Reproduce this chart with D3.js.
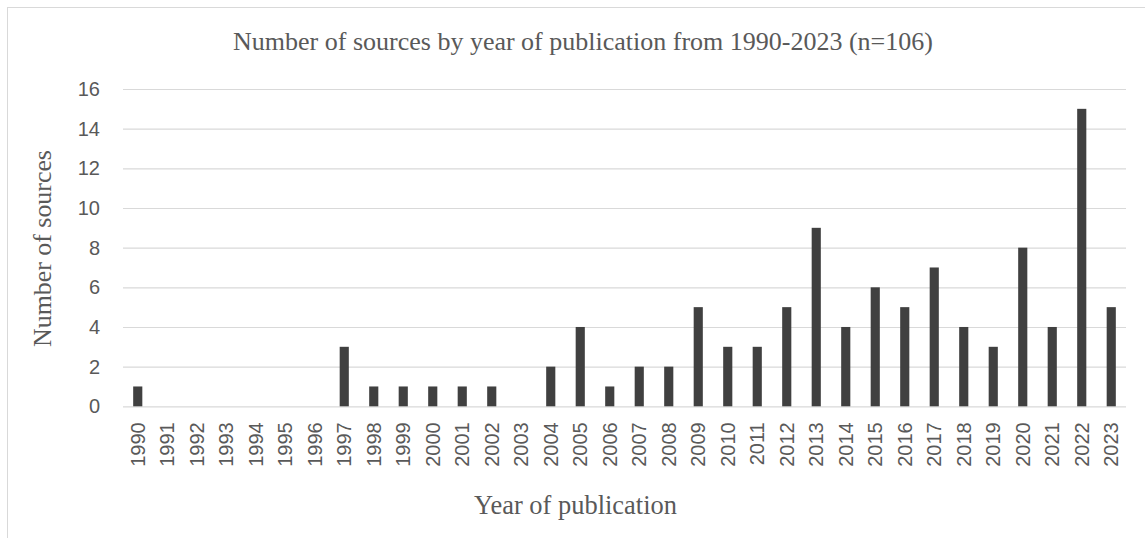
<!DOCTYPE html>
<html>
<head>
<meta charset="utf-8">
<script src="https://cdn.jsdelivr.net/npm/d3@7/dist/d3.min.js"></script>
<style>
  html, body { margin: 0; padding: 0; background: #fff; }
  svg { display: block; }
</style>
</head>
<body>
<svg id="chart" width="1145" height="538"></svg>
<script>
const years = ["1990","1991","1992","1993","1994","1995","1996","1997","1998","1999","2000","2001","2002","2003","2004","2005","2006","2007","2008","2009","2010","2011","2012","2013","2014","2015","2016","2017","2018","2019","2020","2021","2022","2023"];
const counts = [1,0,0,0,0,0,0,3,1,1,1,1,1,0,2,4,1,2,2,5,3,3,5,9,4,6,5,7,4,3,8,4,15,5];
const yTicks = [0,2,4,6,8,10,12,14,16];
const titleText = "Number of sources by year of publication from 1990-2023 (n=106)";
const xTitle = "Year of publication";
const yTitle = "Number of sources";

const W = 1145, H = 538;
const M = { left: 123, right: 1126, top: 89, bottom: 406.3 };
const textColor = "#595959";
const serif = "'Liberation Serif', 'DejaVu Serif', serif";
const sans = "'Liberation Sans', Arial, sans-serif";

const svg = d3.select("#chart");

// chart frame (only top and left edges fall inside the picture)
svg.append("rect")
  .attr("x", 7.5).attr("y", 7.5)
  .attr("width", W + 20).attr("height", H + 20)
  .attr("fill", "#fff").attr("stroke", "#d9d9d9").attr("stroke-width", 1);

const x = d3.scaleBand().domain(years).range([M.left, M.right]).paddingInner(0.69).paddingOuter(0.345);
const y = d3.scaleLinear().domain([0, 16]).range([M.bottom, M.top]);

// gridlines
const yAxis = d3.axisLeft(y).tickValues(yTicks).tickSize(-(M.right - M.left)).tickPadding(23).tickFormat(d3.format("d"));
const gy = svg.append("g").attr("transform", `translate(${M.left},0)`).call(yAxis);
gy.select(".domain").remove();
gy.selectAll(".tick line").attr("stroke", "#d9d9d9").attr("stroke-width", 1.2);
gy.selectAll(".tick text").attr("fill", textColor).attr("font-family", sans).attr("font-size", 20);

// bars
svg.append("g").selectAll("rect").data(years).join("rect")
  .attr("x", (d) => x(d))
  .attr("width", x.bandwidth())
  .attr("y", (d, i) => y(counts[i]))
  .attr("height", (d, i) => y(0) - y(counts[i]))
  .attr("fill", "#404040");

// x axis
const xAxis = d3.axisBottom(x).tickSize(0).tickPadding(0);
const gx = svg.append("g").attr("transform", `translate(0,${M.bottom})`).call(xAxis);
gx.select(".domain").remove();
gx.selectAll(".tick text")
  .attr("fill", textColor).attr("font-family", sans).attr("font-size", 20)
  .attr("transform", "rotate(-90)")
  .attr("text-anchor", "end")
  .attr("x", -16).attr("y", 0).attr("dy", "0.36em");

// helper to fit text width
function fit(sel, target) {
  const fs = parseFloat(sel.attr("font-size"));
  const w = sel.node().getComputedTextLength();
  if (w > 0) sel.attr("font-size", (fs * target / w).toFixed(2));
}

// title
const t = svg.append("text")
  .attr("x", 583).attr("y", 49.5)
  .attr("text-anchor", "middle")
  .attr("fill", textColor).attr("font-family", serif).attr("font-size", 24)
  .text(titleText);
fit(t, 700);

// x title
const xt = svg.append("text")
  .attr("x", 575.5).attr("y", 513.5)
  .attr("text-anchor", "middle")
  .attr("fill", textColor).attr("font-family", serif).attr("font-size", 24)
  .text(xTitle);
fit(xt, 203);

// y title
const yt = svg.append("text")
  .attr("transform", "translate(51,248.5) rotate(-90)")
  .attr("text-anchor", "middle")
  .attr("fill", textColor).attr("font-family", serif).attr("font-size", 24)
  .text(yTitle);
fit(yt, 197);
</script>
</body>
</html>
